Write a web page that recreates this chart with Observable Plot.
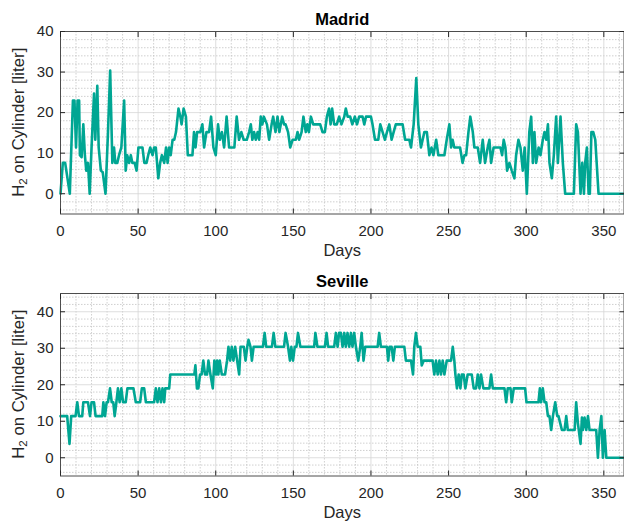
<!DOCTYPE html>
<html>
<head>
<meta charset="utf-8">
<script src="https://cdn.jsdelivr.net/npm/d3@7"></script>
<script src="https://cdn.jsdelivr.net/npm/@observablehq/plot@0.6"></script>
<style>
  html, body { margin: 0; padding: 0; background: white; }
  #chart svg { display: block; }
</style>
</head>
<body>
<div id="chart"></div>
<script>
// ---- Data (polyline vertices) ----
const titles = ["Madrid", "Seville"];
const xLabel = "Days";
const yLabelMain = "H";
const yLabelSub = "2";
const yLabelRest = " on Cylinder [liter]";

const xTicks = [0, 50, 100, 150, 200, 250, 300, 350];
const xMinor = [10, 20, 30, 40, 60, 70, 80, 90, 110, 120, 130, 140, 160, 170, 180, 190, 210, 220, 230, 240, 260, 270, 280, 290, 310, 320, 330, 340, 360];
const yTicks = [0, 10, 20, 30, 40];
const madridYMinor = [-4, -2, 2, 4, 6, 8, 12, 14, 16, 18, 22, 24, 26, 28, 32, 34, 36, 38];
const sevilleYMinor = [-4, -2, 2, 4, 6, 8, 12, 14, 16, 18, 22, 24, 26, 28, 32, 34, 36, 38, 42, 44];
const madridYDomain = [-5, 40];
const sevilleYDomain = [-5, 45];

const madridDays = [0,1.5,3,6,8,9,10,11,12,12.5,13.6,14.7,15.7,16.6,17.7,18.8,20,21.6,22.4,23.7,24.6,26,27.2,29,30.6,32,33.4,34.5,35.3,36.6,37.7,39.2,41,42,43,44.2,45.3,46.3,47.8,49,50.2,52.8,54,55.4,56.5,57.8,59.3,60.3,61.4,63,64.2,65.3,66.8,68,69,70,71,72.2,73.3,74.4,76,77.2,78,79.3,80.8,82,85,86,87,88,90,91.4,92.5,94,95.7,97,98.5,100,101.5,102.6,104,105.4,107,108.6,112,113.5,115,116.5,118,120,121.5,122.6,123.6,124.7,125.8,127,128,129,130,131,133,134.4,136,137,138.5,139.8,141,142.8,144,145,146.6,148,149.5,151.6,152.7,153.7,155.3,156.5,158,159,160,161.3,162.8,164,165.6,167.3,168.8,170.3,171.6,173,174,175,176.3,178,179.5,181,182.8,183.8,185,186.6,188,189.6,191,192.4,194.6,195.7,196.8,200,201,202.6,204.7,206,207.5,209,210.3,211.8,213.3,214.6,216,220.4,222,224.7,225.8,227.5,229.2,230.5,232.2,234.4,236,237.6,239,240.2,242,243.4,245,247.3,248.8,250.5,251.6,252.6,253.7,254.8,257.4,259,260.2,261.3,262.8,264,265.6,266.6,268.8,270.3,272,273.5,275.2,276.3,277.4,279,280,283.4,284.5,285.5,286.6,287.7,289.2,290.7,292.4,293.5,295,296.3,297.8,299,300.4,302,303.2,304.3,305.3,306.4,308,309.2,310.7,311.8,312.9,314,315,316.5,317.8,319.3,320.4,322.1,323.6,325.1,330.7,332.2,333.3,335,336.1,337.2,338,339.1,340.2,341,342,343.2,344.5,346.6,365];
const madridValues = [0,7.6,7.6,0,23,23,11.4,23,23,9.5,9,17.1,9.5,5.7,7.6,0,11.4,24.7,13.3,26.6,11.4,5.7,5.3,0,15.2,30.4,7.6,11.4,7.6,7.6,9.5,11.4,23,5.7,9.5,7.6,9.5,7.6,7.6,5.7,11.4,11.4,7.6,7.6,9.5,11.4,9.5,11.4,11.4,3.8,7.6,9.5,7.6,11.4,7.6,11.4,9.5,13.3,13.3,15.2,21,19,17.1,21,19,9.5,9.5,15.2,11.4,15.2,15.2,17.1,11.4,15.2,15.2,19,11.4,9.5,17.1,13.3,15.2,11.4,19,11.4,11.4,19,13.3,15.2,13.3,13.3,15.2,17.1,13.3,15.2,13.3,15.2,13.3,19,17.1,19,17.1,13.3,17.1,19,15.2,19,15.2,19,17.1,17.1,15.2,11.4,13.3,13.3,15.2,13.3,15.2,19,15.2,17.1,15.2,19,17.1,17.1,17.1,17.1,15.2,15.2,19,21,17.1,21,17.1,17.1,19,17.1,19,21,19,19,17.1,19,17.1,19,19,17.1,19,19,17.1,13.3,13.3,17.1,15.2,13.3,15.2,17.1,13.3,15.2,17.1,17.1,13.3,13.3,11.4,17.1,28.5,17.1,11.4,15.2,15.2,9.5,11.4,9.5,13.3,9.5,9.5,9.5,13.3,17.1,11.4,13.3,11.4,11.4,11.4,7.6,9.5,9.5,15.2,19,15.2,11.4,11.4,7.6,13.3,7.6,11.4,13.3,7.6,11.4,11.4,11.4,9.5,13.3,11.4,5.7,7.6,5.7,3.8,9.5,13.3,11.4,5.7,11.4,0,15.2,19,7.6,15.2,7.6,11.4,9.5,13.3,15.2,13.3,17.1,7.6,3.8,9.5,19,7.6,19,7.6,0,0,17.1,15.2,0,7.6,0,7.6,11.4,0,0,15.2,15.2,13.3,0,0];

const sevilleDays = [0,4.3,5.8,6.9,9.7,10.8,11.9,14,14.7,17.7,19,20,21.6,22.6,26.9,27.6,28.7,29.7,30.6,31.9,33,34,34.9,36,37,38.1,39.2,40.3,42,43.1,47,48.5,51.3,52.4,53.9,55,60.3,61.4,62.5,63.6,64.7,65.7,66.8,67.5,70,70.7,86.2,86.9,87.9,88.8,89.9,90.9,92,93.1,94.4,95.3,96.6,98.1,99.1,100.2,100.9,101.7,102.6,103.9,106,107.3,108.2,109.3,110.3,111.4,112.5,113.8,115.1,116,118.1,119.2,120.3,121.1,122.4,123.3,124.4,130.4,131.5,132.5,136.2,137.3,138.4,144,145,146.6,147.8,148.7,149.8,150.9,152,153,154.5,163.4,164.2,165.5,170.3,171.4,172.4,176.3,177.4,178.5,179.5,180.6,181.7,182.8,183.8,184.9,186,187.1,188.1,189.2,190.3,191.8,193.1,194,195.2,196.3,204.3,205.3,206.4,210.3,211.1,212,213.3,214.4,215.4,221.5,222.5,225.8,227.1,227.9,229,230.1,231.8,232.7,233.9,239.7,240.8,241.9,243,244.1,245.1,246.2,247.3,248.8,251.6,252.7,253.7,254.4,255.4,256.5,257.6,258.5,259.7,260.8,262.3,264.9,266.2,267.7,268.8,269.9,270.9,272.4,276.3,277.4,278.5,286,287.1,288.1,289.9,290.7,292,299.3,300.2,307.9,308.8,309.6,310.7,311.8,312.9,314,315,316.1,317.2,318.7,320,320.8,321.9,323,324.7,325.8,326.8,331.2,332.2,333.3,335,335.9,336.5,337.6,338.7,339.8,340.8,345.1,346.2,347.3,348.4,349.4,350.5,351.6,365];
const sevilleValues = [11.4,11.4,3.8,11.4,11.4,15.2,11.4,11.4,15.2,15.2,11.4,15.2,15.2,11.4,11.4,15.2,11.4,15.2,15.2,19,15.2,15.2,11.4,15.2,19,15.2,19,15.2,15.2,19,19,15.2,15.2,19,19,15.2,15.2,19,15.2,19,15.2,19,15.2,19,19,22.8,22.8,25.3,19,19,22.8,22.8,26.6,22.8,22.8,26.6,22.8,19,26.6,22.8,26.6,22.8,26.6,22.8,22.8,26.6,30.4,26.6,30.4,26.6,30.4,26.6,22.8,30.4,30.4,26.6,30.4,32.3,30.4,26.6,30.4,30.4,34.2,30.4,30.4,34.2,30.4,30.4,34.2,30.4,26.6,30.4,26.6,30.4,30.4,34.2,30.4,30.4,34.2,30.4,30.4,34.2,30.4,30.4,34.2,30.4,34.2,34.2,30.4,34.2,30.4,34.2,30.4,34.2,30.4,34.2,30.4,26.6,30.4,34.2,26.6,30.4,30.4,34.2,30.4,30.4,26.6,30.4,30.4,26.6,30.4,30.4,26.6,26.6,22.8,30.4,34.2,30.4,30.4,25.3,26.6,26.6,22.8,26.6,22.8,26.6,22.8,26.6,22.8,26.6,26.6,30.4,26.6,22.8,19,22.8,19,22.8,22.8,19,22.8,22.8,19,19,22.8,19,22.8,19,19,22.8,19,19,15.2,19,19,15.2,19,19,15.2,15.2,19,15.2,19,15.2,15.2,11.4,11.4,7.6,11.4,15.2,11.4,11.4,9.5,7.6,7.6,11.4,7.6,7.6,15.2,9.5,3.8,11,7.6,11,7.6,11.4,7.6,7.6,0,7.6,11.4,0,7.6,0,0];

// ---- Styling ----
const lineColor = "#00a693";
const textColor = "#262626";
const font = "'Liberation Sans', Arial, Helvetica, sans-serif";

function panel(title, days, values, yDomain, yMinor) {
  const data = days.map((d, i) => ({day: d, value: values[i]}));
  const svg = Plot.plot({
    width: 624,
    height: 262,
    marginLeft: 60,
    marginRight: 0.5,
    marginTop: 31,
    marginBottom: 48.5,
    style: {fontFamily: font, color: textColor, background: "white", overflow: "hidden"},
    x: {domain: [0, 365], range: [60, 626.6]},
    y: {domain: yDomain},
    marks: [
      Plot.gridX(xMinor, {stroke: "#c4c4c4", strokeOpacity: 1, strokeDasharray: "1.5,1.5", strokeWidth: 0.8}),
      Plot.gridY(yMinor, {stroke: "#c4c4c4", strokeOpacity: 1, strokeDasharray: "1.5,1.5", strokeWidth: 0.8}),
      Plot.gridX(xTicks, {stroke: "#d6d6d6", strokeOpacity: 1, strokeWidth: 0.8}),
      Plot.gridY(yTicks, {stroke: "#d6d6d6", strokeOpacity: 1, strokeWidth: 0.8}),
      Plot.line(data, {x: "day", y: "value", stroke: lineColor, strokeWidth: 2.6, strokeLinejoin: "round"}),
      Plot.frame({stroke: "#4d4d4d", strokeWidth: 1}),
      Plot.axisX(xTicks, {anchor: "bottom", tickSize: 0, tickPadding: 11, fontSize: 15, label: null}),
      Plot.axisX(xTicks, {anchor: "bottom", tickSize: 5, dy: -5, text: null, label: null, stroke: textColor}),
      Plot.axisX(xTicks, {anchor: "top", tickSize: 5, dy: 5, text: null, label: null, stroke: textColor}),
      Plot.axisY(yTicks, {anchor: "left", tickSize: 0, tickPadding: 7, fontSize: 15, label: null}),
      Plot.axisY(yTicks, {anchor: "left", tickSize: 5, dx: 5, text: null, label: null, stroke: textColor}),
      Plot.axisY(yTicks, {anchor: "right", tickSize: 5, dx: -5, text: null, label: null, stroke: textColor}),
      Plot.text([title], {frameAnchor: "top", lineAnchor: "middle", dy: -12, fontWeight: "bold", fontSize: 16.5, fill: "black"}),
      Plot.text([xLabel], {frameAnchor: "bottom", lineAnchor: "middle", dy: 37, fontSize: 16.5, fill: textColor})
    ]
  });
  // y-axis label with subscript
  const cy = 31 + (262 - 31 - 48.5) / 2;
  const t = d3.select(svg).append("text")
    .attr("transform", `translate(18,${cy}) rotate(-90)`)
    .attr("text-anchor", "middle")
    .attr("dominant-baseline", "central")
    .attr("fill", textColor)
    .attr("font-family", font)
    .attr("font-size", 16.8);
  t.append("tspan").text(yLabelMain);
  t.append("tspan").attr("font-size", 11.5).attr("dy", 5).text(yLabelSub);
  t.append("tspan").attr("dy", -5).text(yLabelRest);
  return svg;
}

const chart = document.getElementById("chart");
chart.appendChild(panel(titles[0], madridDays, madridValues, madridYDomain, madridYMinor));
chart.appendChild(panel(titles[1], sevilleDays, sevilleValues, sevilleYDomain, sevilleYMinor));
</script>
</body>
</html>
